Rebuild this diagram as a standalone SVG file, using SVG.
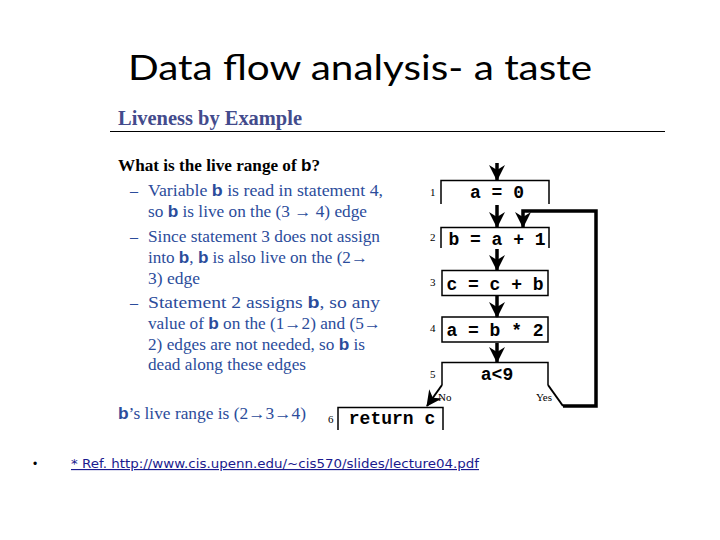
<svg xmlns="http://www.w3.org/2000/svg" width="720" height="540" viewBox="0 0 720 540">
<style>
.title{font-family:Lato,"Open Sans",sans-serif;font-size:34px;fill:#000}
.head{font-family:"Liberation Serif",serif;font-weight:bold;font-size:20px;fill:#434b8c}
.q{font-family:"Liberation Serif",serif;font-weight:bold;font-size:16px;fill:#000}
.t{font-family:"Liberation Serif",serif;font-size:16px;fill:#2b4c9b}
.v{font-family:"Liberation Sans",sans-serif;font-weight:bold}
.code{font-family:"Liberation Mono",monospace;font-weight:bold;font-size:18px;fill:#000}
.num{font-family:"Liberation Serif",serif;font-size:11px;fill:#000}
.lab{font-family:"Liberation Serif",serif;font-size:11px;fill:#000}
.box{fill:none;stroke:#000;stroke-width:1.5}
.wire{fill:none;stroke:#000;stroke-width:3.5}
.thin{fill:none;stroke:#000;stroke-width:2}
.ref{font-family:"DejaVu Sans",sans-serif;font-size:11.5px;fill:#1a1a8e;text-decoration:underline}
</style>
<defs>
<marker id="ah" markerUnits="userSpaceOnUse" viewBox="0 0 16 16" refX="15" refY="8" markerWidth="16" markerHeight="16" orient="auto">
<path d="M0,0 L16,8 L0,16 L5,8 Z" fill="#000"/>
</marker>
</defs>
<rect width="720" height="540" fill="#fff"/>
<text class="title" x="128" y="80" textLength="464" lengthAdjust="spacingAndGlyphs">Data flow analysis- a taste</text>
<g id="slide-text">
<text class="head" x="118" y="125" textLength="184" lengthAdjust="spacingAndGlyphs">Liveness by Example</text>
<line x1="110" y1="131.5" x2="665" y2="131.5" stroke="#000" stroke-width="1.2"/>
<text class="q" x="118" y="171" textLength="202" lengthAdjust="spacingAndGlyphs">What is the live range of <tspan class="v">b</tspan>?</text>
<text class="t" x="130" y="196">–</text>
<text class="t" x="148" y="196" textLength="235" lengthAdjust="spacingAndGlyphs">Variable  <tspan class="v">b</tspan> is read in statement 4,</text>
<text class="t" x="148" y="217" textLength="219" lengthAdjust="spacingAndGlyphs">so <tspan class="v">b</tspan> is live on the (3 → 4) edge</text>
<text class="t" x="130" y="242">–</text>
<text class="t" x="148" y="242" textLength="232" lengthAdjust="spacingAndGlyphs">Since statement 3 does not assign</text>
<text class="t" x="148" y="263" textLength="220" lengthAdjust="spacingAndGlyphs">into <tspan class="v">b</tspan>, <tspan class="v">b</tspan> is also live on the (2→</text>
<text class="t" x="148" y="284" textLength="52" lengthAdjust="spacingAndGlyphs">3) edge</text>
<text class="t" x="130" y="308">–</text>
<text class="t" x="148" y="308" textLength="232" lengthAdjust="spacingAndGlyphs">Statement 2 assigns <tspan class="v">b</tspan>, so any</text>
<text class="t" x="148" y="329" textLength="233" lengthAdjust="spacingAndGlyphs">value of <tspan class="v">b</tspan> on the (1→2) and (5→</text>
<text class="t" x="148" y="350" textLength="217" lengthAdjust="spacingAndGlyphs">2) edges are not needed, so <tspan class="v">b</tspan> is</text>
<text class="t" x="148" y="370" textLength="158" lengthAdjust="spacingAndGlyphs">dead along these edges</text>
<text class="t" x="118" y="419" textLength="188" lengthAdjust="spacingAndGlyphs"><tspan class="v">b</tspan>’s live range is (2→3→4)</text>
</g>
<g id="connectors">
<line class="wire" x1="497" y1="163" x2="497" y2="180" marker-end="url(#ah)"/>
<line class="wire" x1="497" y1="205" x2="497" y2="227" marker-end="url(#ah)"/>
<line class="wire" x1="497" y1="249" x2="497" y2="270" marker-end="url(#ah)"/>
<line class="wire" x1="497" y1="296" x2="497" y2="317" marker-end="url(#ah)"/>
<line class="wire" x1="497" y1="343" x2="497" y2="362" marker-end="url(#ah)"/>
<path class="thin" d="M548,385 L563,406"/>
<path class="wire" d="M563,406 H596 V211 H523 V227" marker-end="url(#ah)"/>
<line class="thin" x1="442" y1="385" x2="427" y2="406" marker-end="url(#ah)"/>
<text class="lab" x="438" y="401">No</text>
<text class="lab" x="536" y="401">Yes</text>
</g>
<g id="s1">
<path class="box" d="M441,204 V180.5 H549 V204"/>
<text class="num" x="430" y="196">1</text>
<text class="code" x="497" y="198" text-anchor="middle">a = 0</text>
</g>
<g id="s2">
<path class="box" d="M441,248 V227.5 H549 V248"/>
<text class="num" x="430" y="241" fill="#888">2</text>
<text class="code" x="497" y="245" text-anchor="middle">b = a + 1</text>
</g>
<g id="s3">
<rect class="box" x="442" y="270.5" width="106" height="25"/>
<text class="num" x="430" y="286">3</text>
<text class="code" x="495" y="290" text-anchor="middle">c = c + b</text>
</g>
<g id="s4">
<rect class="box" x="442" y="317" width="106" height="25"/>
<text class="num" x="430" y="332">4</text>
<text class="code" x="495" y="336" text-anchor="middle">a = b * 2</text>
</g>
<g id="s5">
<path class="box" d="M442,385 V362.5 H548 V385"/>
<text class="num" x="430" y="378">5</text>
<text class="code" x="497" y="380" text-anchor="middle">a&lt;9</text>
</g>
<g id="s6">
<path class="box" d="M338,430 V407.5 H443 V430"/>
<text class="num" x="328" y="423">6</text>
<text class="code" x="392" y="424" text-anchor="middle">return c</text>
</g>
<g id="footer">
<text x="33" y="468" font-family="'Liberation Sans',sans-serif" font-size="12" fill="#000">•</text>
<text class="ref" x="71" y="468" textLength="408" lengthAdjust="spacingAndGlyphs">* Ref. http://www.cis.upenn.edu/~cis570/slides/lecture04.pdf</text>
</g>
</svg>
